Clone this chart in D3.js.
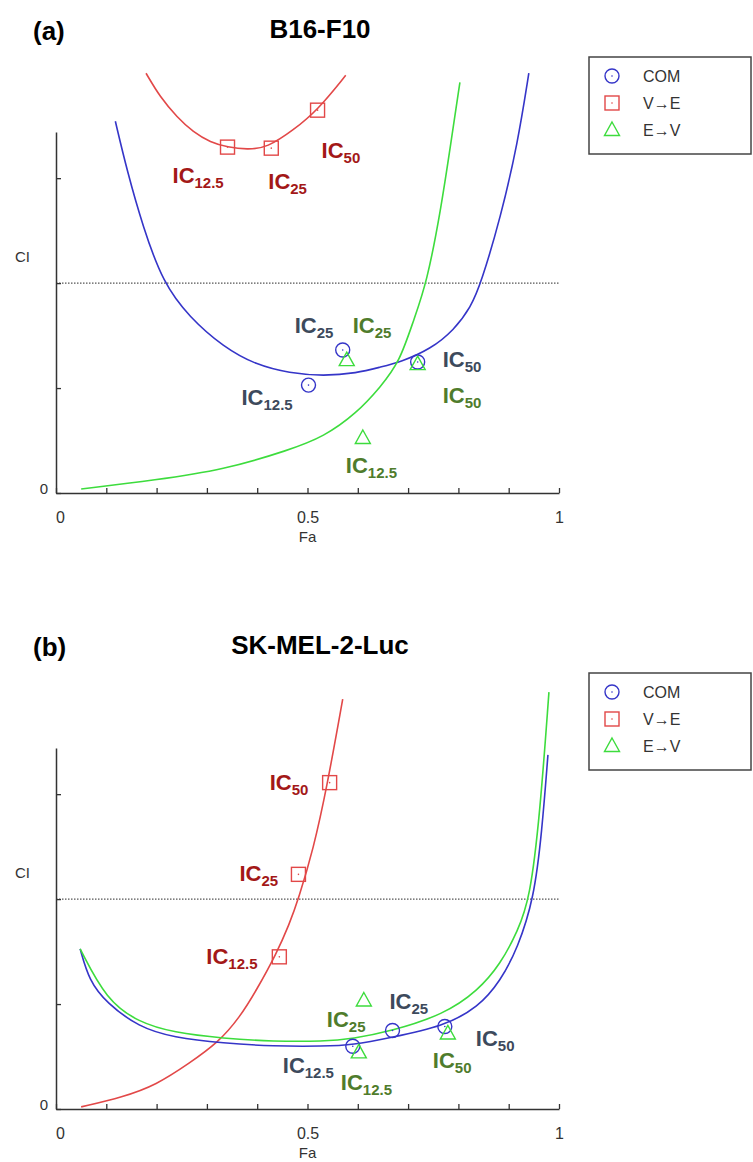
<!DOCTYPE html>
<html>
<head>
<meta charset="utf-8">
<script src="https://cdn.jsdelivr.net/npm/d3@7"></script>
<style>
  body { margin: 0; background: #fff; }
  text { font-family: "Liberation Sans", Arial, sans-serif; }
</style>
</head>
<body>
<svg id="chart" width="753" height="1162"></svg>
<script>
// ---- data (Fa, CI) ----
const icLevels = ["12.5", "25", "50"];
const xTicks = [0, 0.1, 0.2, 0.3, 0.4, 0.5, 0.6, 0.7, 0.8, 0.9, 1];
const xTickLabels = {0: "0", 0.5: "0.5", 1: "1"};
const yTicks = [0, 0.5, 1, 1.5];
const legendNames = ["COM", "V\u2192E", "E\u2192V"];

// panel (a) B16-F10
const aComCurve = [[0.118,1.771],[0.141,1.538],[0.173,1.267],[0.213,1.0],[0.265,0.838],[0.333,0.695],[0.398,0.610],[0.464,0.571],[0.532,0.557],[0.598,0.571],[0.645,0.600],[0.685,0.624],[0.745,0.686],[0.791,0.776],[0.825,0.886],[0.845,1.0],[0.884,1.314],[0.918,1.667],[0.940,2.0]];
const aVECurve = [[0.179,2.0],[0.207,1.886],[0.241,1.790],[0.273,1.719],[0.307,1.671],[0.341,1.648],[0.380,1.636],[0.420,1.645],[0.472,1.729],[0.520,1.824],[0.576,1.990]];
const aEVCurve = [[0.050,0.019],[0.199,0.062],[0.333,0.110],[0.464,0.205],[0.532,0.267],[0.598,0.381],[0.645,0.505],[0.683,0.624],[0.711,0.824],[0.737,1.0],[0.765,1.348],[0.785,1.667],[0.803,1.957]];
const aComPts = [[0.502,0.514],[0.570,0.681],[0.719,0.624]];
const aVEPts = [[0.341,1.648],[0.428,1.643],[0.520,1.824]];
const aEVPts = [[0.610,0.262],[0.578,0.633],[0.719,0.614]];

// panel (b) SK-MEL-2-Luc
const bComCurve = [[0.048,0.763],[0.066,0.611],[0.100,0.507],[0.165,0.389],[0.233,0.341],[0.333,0.313],[0.432,0.299],[0.532,0.299],[0.590,0.305],[0.665,0.340],[0.771,0.395],[0.839,0.483],[0.884,0.611],[0.918,0.768],[0.950,1.0],[0.966,1.320],[0.978,1.687]];
const bVECurve = [[0.050,0.010],[0.133,0.057],[0.199,0.114],[0.265,0.218],[0.323,0.318],[0.365,0.436],[0.398,0.564],[0.438,0.739],[0.464,0.881],[0.482,1.0],[0.512,1.242],[0.538,1.526],[0.570,1.953]];
const bEVCurve = [[0.048,0.763],[0.100,0.520],[0.165,0.412],[0.233,0.365],[0.333,0.336],[0.432,0.322],[0.532,0.322],[0.590,0.335],[0.665,0.370],[0.771,0.450],[0.839,0.564],[0.884,0.692],[0.918,0.848],[0.942,1.0],[0.962,1.400],[0.980,1.986]];
const bComPts = [[0.590,0.299],[0.669,0.374],[0.773,0.393]];
const bVEPts = [[0.444,0.725],[0.482,1.118],[0.544,1.555]];
const bEVPts = [[0.602,0.270],[0.612,0.517],[0.779,0.360]];

// ---- styles / layout ----
const col = {com: "#3535c8", ve: "#e24848", ev: "#3ddc3d"};
const labCol = {com: "#3d4a5c", ve: "#a31818", ev: "#4f7c2c"};

const svg = d3.select("#chart");
svg.append("rect").attr("width", 753).attr("height", 1162).attr("fill", "#fff");

const x = d3.scaleLinear().domain([0, 1]).range([56, 559]);

function marker(g, type, px, py) {
  const c = col[type];
  if (type === "com") {
    g.append("circle").attr("cx", px).attr("cy", py).attr("r", 7)
      .attr("fill", "none").attr("stroke", c).attr("stroke-width", 1.4);
    g.append("circle").attr("cx", px).attr("cy", py).attr("r", 0.8).attr("fill", c);
  } else if (type === "ve") {
    g.append("rect").attr("x", px - 7).attr("y", py - 7).attr("width", 14).attr("height", 14)
      .attr("fill", "none").attr("stroke", c).attr("stroke-width", 1.4);
    g.append("circle").attr("cx", px).attr("cy", py).attr("r", 0.8).attr("fill", c);
  } else {
    g.append("path")
      .attr("d", `M${px},${py - 8} L${px + 7.5},${py + 5.5} L${px - 7.5},${py + 5.5} Z`)
      .attr("fill", "none").attr("stroke", c).attr("stroke-width", 1.4);
  }
}

function icLabel(g, type, px, py, sub) {
  const t = g.append("text").attr("x", px).attr("y", py)
    .attr("fill", labCol[type]).attr("font-weight", "bold").attr("font-size", 22);
  t.append("tspan").text("IC");
  t.append("tspan").attr("dy", 5).attr("font-size", 15).text(sub);
}

function panel(cfg) {
  const y = d3.scaleLinear().domain([0, 1.72]).range([cfg.y0, cfg.y0 - 361]);
  const g = svg.append("g");

  // title
  g.append("text").attr("x", 33).attr("y", cfg.y0 - 453)
    .attr("font-size", 26).attr("font-weight", "bold").text(cfg.tag);
  g.append("text").attr("x", 320).attr("y", cfg.y0 - 455).attr("text-anchor", "middle")
    .attr("font-size", 26).attr("font-weight", "bold").text(cfg.title);

  // CI = 1 reference line
  g.append("line").attr("x1", x(0)).attr("x2", x(1)).attr("y1", y(1)).attr("y2", y(1))
    .attr("stroke", "#555").attr("stroke-width", 1.2).attr("stroke-dasharray", "1.5,1.5");

  // axes
  const xa = g.append("g").attr("transform", `translate(0,${cfg.y0})`)
    .call(d3.axisBottom(x).tickValues(xTicks).tickSizeInner(-5).tickSizeOuter(0).tickPadding(19)
      .tickFormat(d => xTickLabels[d] || ""));
  const ya = g.append("g").attr("transform", `translate(${x(0)},0)`)
    .call(d3.axisLeft(y).tickValues(yTicks).tickSizeInner(-5).tickSizeOuter(0).tickPadding(8)
      .tickFormat(d => d === 0 ? "0" : ""));
  [xa, ya].forEach(a => {
    a.select(".domain").attr("stroke", "#333").attr("stroke-width", 1.5);
    a.selectAll(".tick line").attr("stroke", "#333").attr("stroke-width", 1.3);
    a.selectAll("text").attr("fill", "#333").attr("font-size", 16)
      .attr("font-family", '"Liberation Sans", Arial, sans-serif');
  });
  xa.selectAll(".tick text").filter(d => d === 0).attr("dx", 4);
  ya.selectAll("text").attr("dy", "0").attr("font-size", 15);
  g.append("text").attr("x", x(0.5)).attr("y", cfg.y0 + 49).attr("text-anchor", "middle")
    .attr("font-size", 15).attr("fill", "#333").text("Fa");
  g.append("text").attr("x", 15).attr("y", cfg.y0 - 231)
    .attr("font-size", 15).attr("fill", "#333").text("CI");

  // curves
  const line = d3.line().x(d => x(d[0])).y(d => y(d[1])).curve(d3.curveBasis);
  cfg.series.forEach(s => {
    g.append("path").datum(s.curve).attr("d", line)
      .attr("fill", "none").attr("stroke", col[s.type]).attr("stroke-width", 1.6);
  });

  // data points + IC labels
  cfg.series.forEach(s => {
    s.pts.forEach((p, i) => {
      const px = x(p[0]), py = y(p[1]);
      marker(g, s.type, px, py);
      icLabel(g, s.type, px + s.off[i][0], py + s.off[i][1], icLevels[i]);
    });
  });

  // legend
  const lt = cfg.y0 - 436;
  g.append("rect").attr("x", 589).attr("y", lt).attr("width", 162).attr("height", 97)
    .attr("fill", "#fff").attr("stroke", "#444").attr("stroke-width", 1.5);
  ["com", "ve", "ev"].forEach((t, i) => {
    const ry = lt + 19 + i * 27;
    marker(g, t, 612, ry);
    g.append("text").attr("x", 643).attr("y", ry).attr("dy", "0.36em")
      .attr("font-size", 16).attr("fill", "#333").text(legendNames[i]);
  });
}

panel({
  tag: "(a)", title: "B16-F10", y0: 493,
  series: [
    {type: "ve", curve: aVECurve, pts: aVEPts, off: [[-55, 36], [-3, 41], [4, 48]]},
    {type: "com", curve: aComCurve, pts: aComPts, off: [[-67, 20], [-48, -17], [25, 5]]},
    {type: "ev", curve: aEVCurve, pts: aEVPts, off: [[-17, 35], [6, -27], [25, 39]]}
  ]
});

panel({
  tag: "(b)", title: "SK-MEL-2-Luc", y0: 1109,
  series: [
    {type: "ve", curve: bVECurve, pts: bVEPts, off: [[-73, 7], [-59, 7], [-60, 7]]},
    {type: "com", curve: bComCurve, pts: bComPts, off: [[-70, 27], [-3, -22], [31, 19]]},
    {type: "ev", curve: bEVCurve, pts: bEVPts, off: [[-18, 38], [-37, 27], [-15, 35]]}
  ]
});
</script>
</body>
</html>
